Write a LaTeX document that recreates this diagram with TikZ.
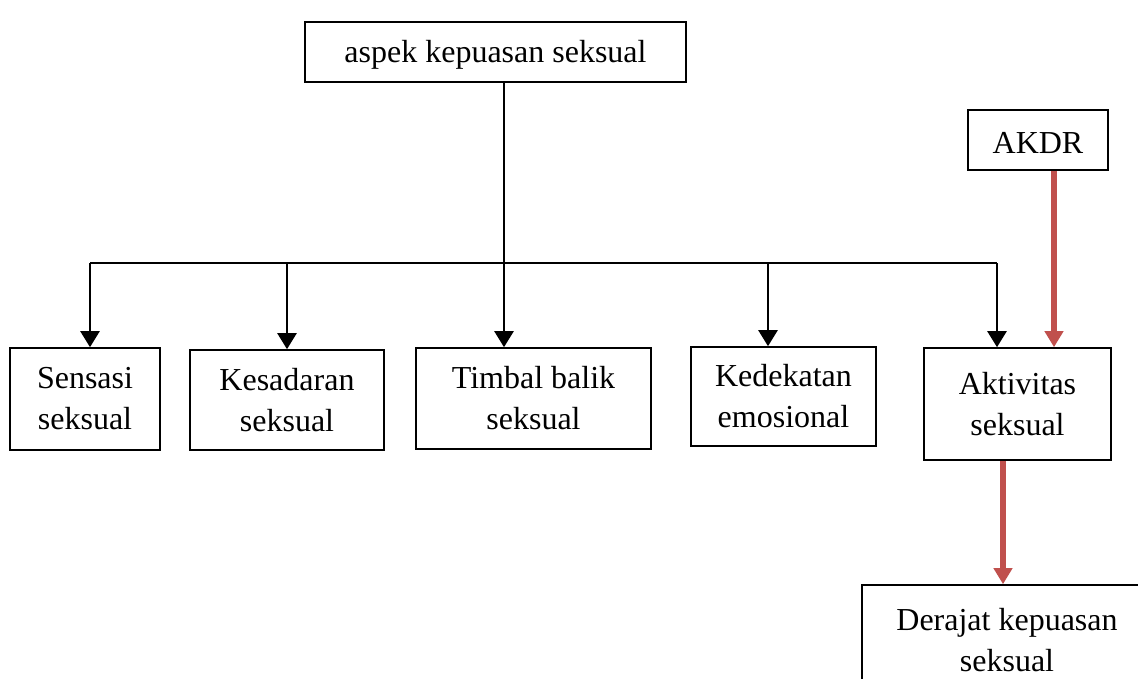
\documentclass[tikz,border=0pt]{standalone}
\usepackage{fontspec}
\setmainfont{Liberation Serif}
\usetikzlibrary{arrows.meta}
\definecolor{redarr}{RGB}{192,80,77}
\newcommand{\lowr}[1]{\raisebox{-3pt}[\height][\depth]{#1}}
\begin{document}
\begin{tikzpicture}[x=1pt,y=-1pt,
  box/.style={draw=black,line width=1.6pt,inner sep=0pt,align=center,
    font=\fontsize{32}{41}\selectfont},
  blkarr/.style={line width=2.4pt,-{Triangle[width=19pt,length=16pt]}},
  redarrow/.style={draw=redarr,line width=5.5pt,-{Triangle[width=18pt,length=16pt,fill=redarr]}},
  plain/.style={line width=2pt}]
\useasboundingbox[fill=white] (0,0) rectangle (1138,679);
\node[box,minimum width=381pt,minimum height=60pt] (top) at (495.5,52) {\lowr{aspek kepuasan seksual}};
\node[box,minimum width=150pt,minimum height=102pt] (sens) at (85,399) {Sensasi\\seksual};
\node[box,minimum width=194pt,minimum height=100pt] (kes) at (287,400) {Kesadaran\\seksual};
\node[box,minimum width=235pt,minimum height=101pt] (tim) at (533.5,398.5) {Timbal balik\\seksual};
\node[box,minimum width=185pt,minimum height=99pt] (ked) at (783.5,396.5) {Kedekatan\\emosional};
\node[box,minimum width=187pt,minimum height=112pt] (akt) at (1017.5,404) {Aktivitas\\seksual};
\node[box,minimum width=140pt,minimum height=60pt] (akdr) at (1038,140) {\lowr{AKDR}};
\node[box,minimum width=290pt,minimum height=110pt] (der) at (1007,640) {Derajat kepuasan\\seksual};
\coordinate (bus) at (504,263);
\coordinate (b1) at (90,263);
\coordinate (b2) at (287,263);
\coordinate (b3) at (504,263);
\coordinate (b4) at (768,263);
\coordinate (b5) at (997,263);
\draw[plain] (top.south -| bus) -- (bus);
\draw[plain] (b1) -- (b5);
\draw[blkarr] (b1) -- (b1 |- sens.north);
\draw[blkarr] (b2) -- (b2 |- kes.north);
\draw[blkarr] (b3) -- (b3 |- tim.north);
\draw[blkarr] (b4) -- (b4 |- ked.north);
\draw[blkarr] (b5) -- (b5 |- akt.north);
\coordinate (r1) at (1054,0);
\coordinate (r2) at (1003,0);
\draw[redarrow] (r1 |- akdr.south) -- (r1 |- akt.north);
\draw[redarrow] (r2 |- akt.south) -- (r2 |- der.north);
\end{tikzpicture}
\end{document}
